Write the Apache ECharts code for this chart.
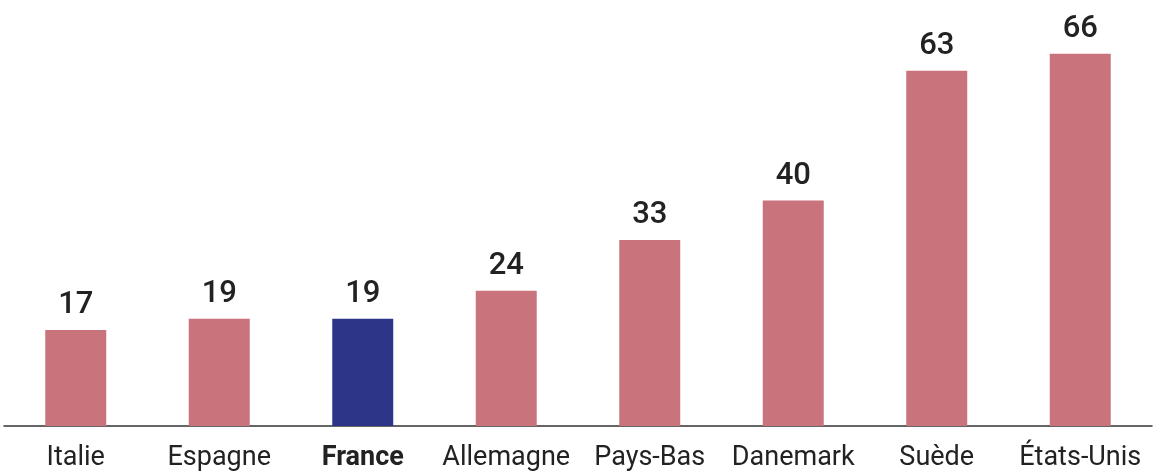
<!DOCTYPE html>
<html>
<head>
<meta charset="utf-8">
<script src="https://cdn.jsdelivr.net/npm/echarts@6/dist/echarts.min.js"></script>
<style>
  html, body { margin: 0; padding: 0; background: #fff; }
  #chart { width: 1154px; height: 472px; }
</style>
</head>
<body>
<div id="chart"></div>
<script>
// Countries and their values
const categories = ['Italie', 'Espagne', 'France', 'Allemagne', 'Pays-Bas', 'Danemark', 'Suède', 'États-Unis'];
const values = [17, 19, 19, 24, 33, 40, 63, 66];
const highlighted = 'France';

const pink = '#C9737C';
const blue = '#2D3589';

const chart = echarts.init(document.getElementById('chart'));

chart.setOption({
  animation: false,
  grid: { left: 4, right: 2, top: 3, bottom: 44, containLabel: false },
  xAxis: {
    type: 'category',
    data: categories,
    axisLine: { show: true, lineStyle: { color: '#333', width: 1.5 } },
    axisTick: { show: false },
    axisLabel: {
      interval: 0,
      margin: 19,
      fontFamily: 'Roboto',
      fontSize: 27,
      color: '#222',
      formatter: (v) => v === highlighted ? '{b|' + v + '}' : v,
      rich: {
        b: { fontFamily: 'Roboto', fontSize: 27, fontWeight: 'bold', color: '#222' }
      }
    }
  },
  yAxis: {
    type: 'value',
    min: 0,
    max: 75,
    show: false,
    splitLine: { show: false }
  },
  series: [{
    type: 'bar',
    barWidth: '42.5%',
    data: values.map((v, i) => ({
      value: v,
      itemStyle: { color: categories[i] === highlighted ? blue : pink }
    })),
    label: {
      show: true,
      position: 'top',
      distance: 9,
      fontFamily: 'Roboto',
      fontSize: 31,
      fontWeight: 500,
      color: '#222'
    }
  }]
});
</script>
</body>
</html>
